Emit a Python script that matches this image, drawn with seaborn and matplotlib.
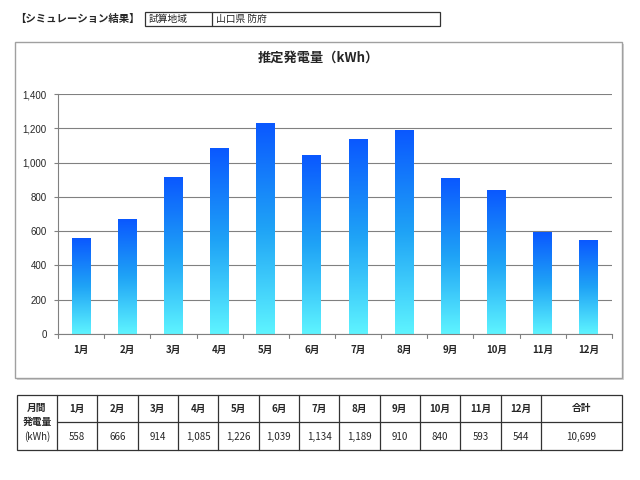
import numpy as np
import pandas as pd
import matplotlib
matplotlib.use("Agg")
import matplotlib.pyplot as plt
import seaborn as sns
from matplotlib.colors import LinearSegmentedColormap
from matplotlib.patches import Rectangle
from matplotlib.lines import Line2D

months = ["1月", "2月", "3月", "4月", "5月", "6月", "7月", "8月", "9月", "10月", "11月", "12月"]
values = [558, 666, 914, 1085, 1226, 1039, 1134, 1189, 910, 840, 593, 544]
total_label = "10,699"
yticks = [0, 200, 400, 600, 800, 1000, 1200, 1400]
title = "推定発電量（kWh）"
region_label = "試算地域"
region_value = "山口県 防府"
header = "【シミュレーション結果】"

sns.set_theme(style="white")
plt.rcParams['font.family'] = ['Noto Sans CJK JP', 'DejaVu Sans']

W, H = 640, 480
fig = plt.figure(figsize=(6.4, 4.8), dpi=100)

def fx(x):
    return x / W

def fy(y):
    return 1 - y / H

# header
fig.text(fx(15), fy(19), header, fontsize=7.5, fontweight='bold', va='center', ha='left')
fig.patches.append(Rectangle((fx(145), fy(26)), fx(440) - fx(145), fy(12) - fy(26),
                             transform=fig.transFigure, fill=False, ec='#333333', lw=0.9))
fig.lines.append(Line2D([fx(212), fx(212)], [fy(12), fy(26)], transform=fig.transFigure, color='#333333', lw=0.9))
fig.text(fx(149), fy(19), region_label, fontsize=7, va='center', ha='left')
fig.text(fx(216), fy(19), region_value, fontsize=7, va='center', ha='left')

# chart box with shadow
fig.patches.append(Rectangle((fx(17), fy(380)), fx(624) - fx(17), fy(44) - fy(380),
                             transform=fig.transFigure, fc='#d4d4d4', ec='none', zorder=0))
fig.patches.append(Rectangle((fx(15), fy(378)), fx(622) - fx(15), fy(42) - fy(378),
                             transform=fig.transFigure, fc='white', ec='#a0a0a0', lw=1.0, zorder=0.5))
fig.text(fx(318), fy(58), title, fontsize=9.5, fontweight='bold', va='center', ha='center')

ax = fig.add_axes([fx(58), fy(334), fx(612) - fx(58), fy(94) - fy(334)])
ax.set_zorder(3)
ax.patch.set_alpha(0)
df = pd.DataFrame({"month": months, "kwh": values})
sns.barplot(data=df, x="month", y="kwh", ax=ax, width=0.41, color="#2277ff", saturation=1)

cmap = LinearSegmentedColormap.from_list("g", ["#5ef4ff", "#1fa3f6", "#0a58ff"])
grad = np.linspace(0, 1, 256).reshape(-1, 1)
for p in ax.patches:
    x0, w, h = p.get_x(), p.get_width(), p.get_height()
    ax.imshow(grad, extent=[x0, x0 + w, 0, h], origin='lower', aspect='auto', cmap=cmap, zorder=2)
    p.set_visible(False)

ax.set_xlim(-0.5, 11.5)
ax.set_ylim(0, 1400)
ax.set_yticks(yticks)
ax.set_yticklabels([f"{v:,}" for v in yticks], fontsize=7, family=['Liberation Sans', 'DejaVu Sans'])
ax.yaxis.grid(True, color='#808080', lw=0.8)
ax.set_axisbelow(True)
ax.set_xlabel("")
ax.set_ylabel("")
ax.set_xticks(range(12))
ax.set_xticklabels(months, fontsize=7, fontweight='bold')
ax.tick_params(axis='x', length=0, pad=8)
ax.tick_params(axis='y', length=3, width=0.8, color='#808080', left=True, pad=5)
for b in np.arange(-0.5, 12, 1):
    ax.plot([b, b], [0, -0.016], transform=ax.get_xaxis_transform(), color='#808080', lw=0.8, clip_on=False)
for s in ['top', 'right']:
    ax.spines[s].set_visible(False)
for s in ['left', 'bottom']:
    ax.spines[s].set_color('#808080')
    ax.spines[s].set_linewidth(0.8)

# table
tx0, tx1 = 17, 622
ty0, tym, ty1 = 395, 422, 450
c0 = 57
cw = 40.33
cend = c0 + 12 * cw
tlw = 0.9
tc = '#333333'
fig.patches.append(Rectangle((fx(tx0), fy(ty1)), fx(tx1) - fx(tx0), fy(ty0) - fy(ty1),
                             transform=fig.transFigure, fill=False, ec=tc, lw=tlw))
fig.lines.append(Line2D([fx(c0), fx(tx1)], [fy(tym), fy(tym)], transform=fig.transFigure, color=tc, lw=tlw))
for i in range(13):
    xx = c0 + i * cw
    fig.lines.append(Line2D([fx(xx), fx(xx)], [fy(ty0), fy(ty1)], transform=fig.transFigure, color=tc, lw=tlw))
fig.text(fx(37), fy(408), "月間", fontsize=7, fontweight='bold', ha='center', va='center')
fig.text(fx(37), fy(422), "発電量", fontsize=7, fontweight='bold', ha='center', va='center')
fig.text(fx(37), fy(437), "(kWh)", fontsize=7, ha='center', va='center')
for i, (m, v) in enumerate(zip(months, values)):
    cx = c0 + (i + 0.5) * cw
    fig.text(fx(cx), fy(408.5), m, fontsize=7, fontweight='bold', ha='center', va='center')
    fig.text(fx(cx), fy(436.5), f"{v:,}", fontsize=7, ha='center', va='center')
cx = (cend + tx1) / 2
fig.text(fx(cx), fy(408.5), "合計", fontsize=7, fontweight='bold', ha='center', va='center')
fig.text(fx(cx), fy(436.5), total_label, fontsize=7, ha='center', va='center')

fig.savefig("out.png", dpi=100)
